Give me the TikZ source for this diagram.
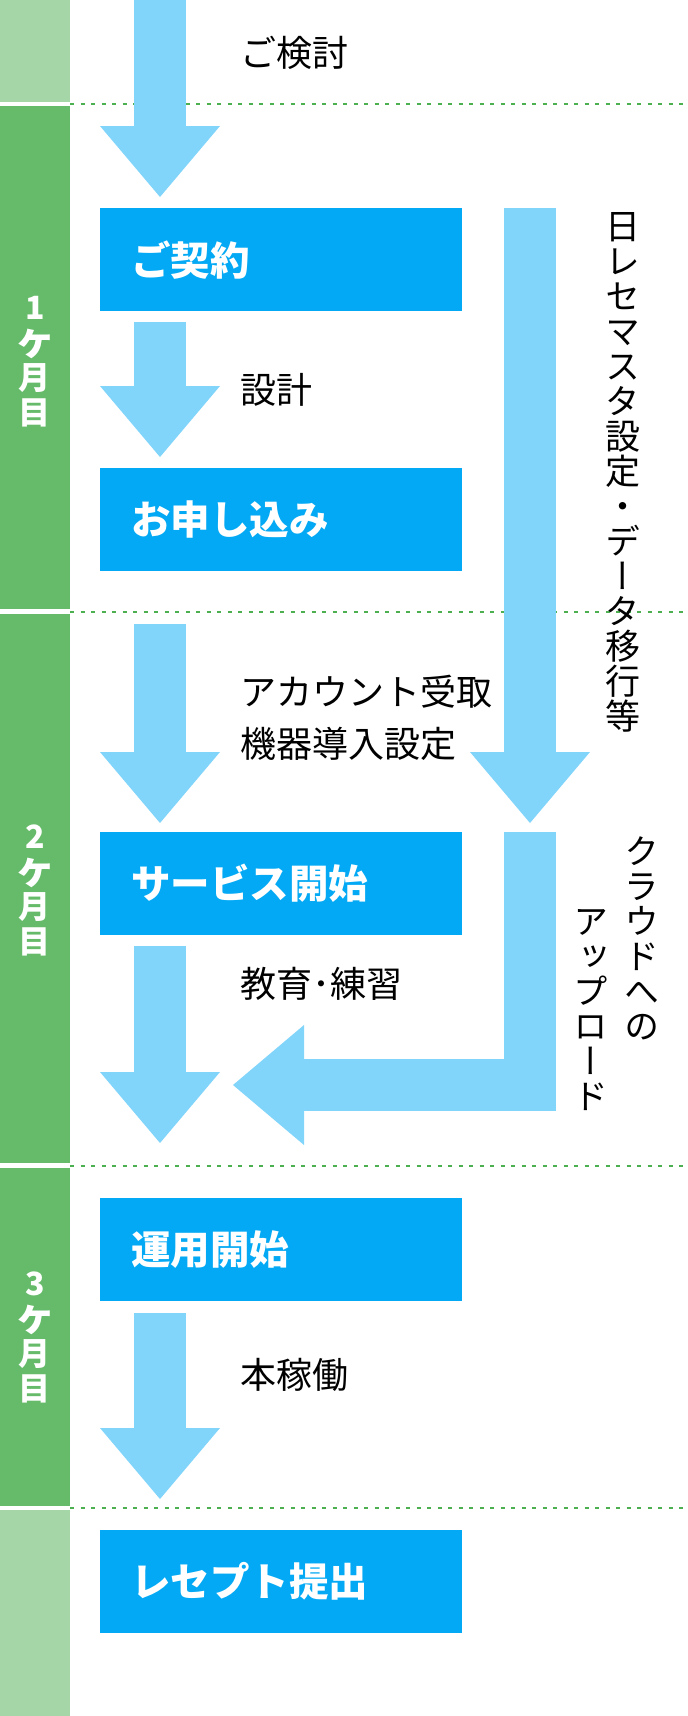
\documentclass[tikz,border=0pt]{standalone}
\usepackage{fontspec}
\usetikzlibrary{arrows.meta}

\newfontfamily\jpfont{Noto Sans CJK JP}
\newfontfamily\jpvfont[RawFeature=+vert]{Noto Sans CJK JP}
\setlength{\lineskiplimit}{-20pt}
\newcommand\monthke{\scalebox{1.25}{ヶ}}

\definecolor{boxblue}{HTML}{03A9F4}
\definecolor{arrowblue}{HTML}{81D4FA}
\definecolor{monthgreen}{HTML}{66BB6A}
\definecolor{palegreen}{HTML}{A5D6A7}
\definecolor{linegreen}{HTML}{4CAF50}

\tikzset{
  stepbox/.style={fill=boxblue, text=white, anchor=north west, minimum height=103pt,
    text width=300pt, inner xsep=31pt, inner ysep=0pt, align=left,
    font=\jpfont\bfseries\fontsize{39.5}{40}\selectfont},
  fatarrow/.style={draw=arrowblue, line width=52pt,
    -{Triangle[width=120pt,length=71pt,line width=0pt]}},
  note/.style={anchor=west, inner sep=0pt, align=left,
    font=\jpfont\fontsize{36}{52}\selectfont},
  vnote/.style={inner sep=0pt, align=center,
    font=\jpvfont\fontsize{35}{35}\selectfont},
  month/.style={text=white, inner sep=0pt, align=center,
    font=\jpfont\bfseries\fontsize{32}{35}\selectfont},
  monthline/.style={linegreen, line width=2pt, dash pattern=on 4pt off 6.5pt}
}

\begin{document}
\begin{tikzpicture}[x=1pt,y=-1pt]
      \useasboundingbox (0,0) rectangle (688,1716);

      % month bar
      \fill[palegreen] (0,0) rectangle (70,102);
      \fill[monthgreen] (0,106) rectangle (70,609);
      \fill[monthgreen] (0,614) rectangle (70,1163);
      \fill[monthgreen] (0,1168) rectangle (70,1506);
      \fill[palegreen] (0,1510) rectangle (70,1716);
      \node[month] (month1) at (35,362) {1\\\monthke\\月\\目};
      \node[month] (month2) at (35,890) {2\\\monthke\\月\\目};
      \node[month] (month3) at (35,1337) {3\\\monthke\\月\\目};

      \foreach \y in {104,611.5,1165.5,1508}
        \draw[monthline] (70,\y) -- (688,\y);

      % steps
      \node[stepbox] (contract) at (100,208) {ご契約};
      \node[stepbox] (apply) at (100,468) {お申し込み};
      \node[stepbox] (start) at (100,832) {サービス開始};
      \node[stepbox] (operate) at (100,1198) {運用開始};
      \node[stepbox] (receipt) at (100,1530) {レセプト提出};

      % arrows
      \foreach \n/\s/\e in {1/0/197, 2/322/457, 3/624/823, 4/946/1143, 5/1313/1499} {
        \coordinate (flow\n top) at (160,\s);
        \coordinate (flow\n tip) at (160,\e);
        \draw[fatarrow] (flow\n top) -- (flow\n tip);
      }
      \coordinate (side1top) at (530,208);
      \coordinate (side1tip) at (530,823);
      \draw[fatarrow] (side1top) -- (side1tip);
      \coordinate (side2top) at (530,832);
      \coordinate (side2tip) at (233,1085);
      \draw[fatarrow] (side2top) |- (side2tip);

      % labels
      \node[note] (consider) at (240,53) {ご検討};
      \node[note] (design) at (240,390) {設計};
      \node[note] (setup) at (240,718) {アカウント受取\\機器導入設定};
      \node[note] (training) at (240,984) {教育･練習};
      \node[note] (live) at (240,1375) {本稼働};
      \node[vnote] (migrate) at (623,472) {日\\レ\\セ\\マ\\ス\\タ\\設\\定\\・\\デ\\ー\\タ\\移\\行\\等};
      \node[vnote] (cloud) at (642,938) {ク\\ラ\\ウ\\ド\\へ\\の};
      \node[vnote] (upload) at (591,1010) {ア\\ッ\\プ\\ロ\\ー\\ド};
\end{tikzpicture}
\end{document}
